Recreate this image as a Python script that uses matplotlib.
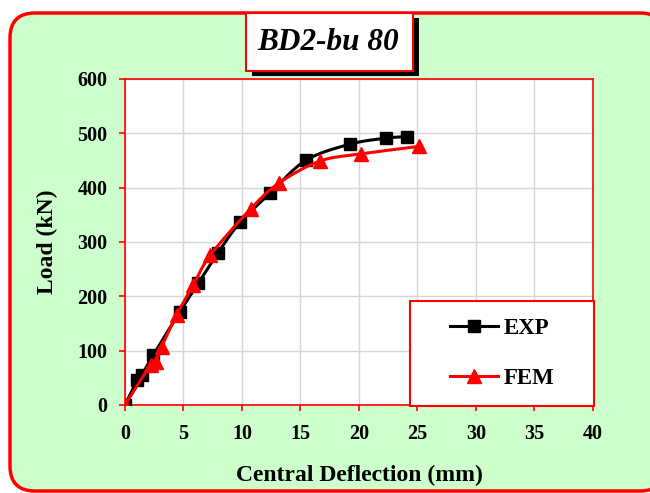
import numpy as np
import matplotlib
matplotlib.use('Agg')
import matplotlib.pyplot as plt
from matplotlib.patches import Rectangle, FancyBboxPatch

# load-deflection readings, beam BD2-bu 80
exp_defl = [0, 1.05, 1.42, 2.42, 4.70, 6.27, 7.95, 9.83, 12.42, 15.44, 19.23, 22.28, 24.13]
exp_load = [0, 46, 55, 92, 172, 224, 280, 336, 390, 450, 480, 491, 494]
fem_defl = [0, 2.19, 2.65, 3.13, 4.42, 5.84, 7.30, 10.74, 13.19, 16.67, 20.14, 25.13]
fem_load = [0, 74, 80, 107, 166, 221, 276, 361, 409, 449, 462, 476]

x_ticks = [0, 5, 10, 15, 20, 25, 30, 35, 40]
y_ticks = [0, 100, 200, 300, 400, 500, 600]

SERIF = 'Liberation Serif'
RED = '#FF0000'


def smooth(x, y, sx, sy, n=20):
    """Bezier smoothing through the points (like a spreadsheet smoothed line)."""
    p = np.column_stack([np.asarray(x) / sx, np.asarray(y) / sy])
    out = [p[0]]
    for i in range(len(p) - 1):
        p0 = p[i - 1] if i > 0 else p[i]
        p3 = p[i + 2] if i + 2 < len(p) else p[i + 1]
        c1 = p[i] + (p[i + 1] - p0) / 6.0
        c2 = p[i + 1] - (p3 - p[i]) / 6.0
        t = np.linspace(0, 1, n)[1:, None]
        seg = ((1 - t) ** 3 * p[i] + 3 * (1 - t) ** 2 * t * c1
               + 3 * (1 - t) * t ** 2 * c2 + t ** 3 * p[i + 1])
        out.extend(seg)
    out = np.array(out)
    return out[:, 0] * sx, out[:, 1] * sy


fig = plt.figure(figsize=(6.5, 4.93), dpi=100)

# rounded green panel behind everything
panel = FancyBboxPatch((0.10, 0.02), 6.55, 4.78,
                       boxstyle='round,pad=0,rounding_size=0.25',
                       transform=fig.dpi_scale_trans, facecolor='#CCFFCC',
                       edgecolor=RED, linewidth=2.5, zorder=-5)
fig.patches.append(panel)

ax = fig.add_axes([0.1923, 0.1785, 0.72, 0.6613])
ax.set_facecolor('white')

sx, sy = 40 / 468.0, 600 / 326.0
ex, ey = smooth(exp_defl, exp_load, sx, sy)
fx, fy = smooth(fem_defl, fem_load, sx, sy)
ax.plot(ex, ey, color='black', lw=2.2, zorder=3)
ax.plot(exp_defl, exp_load, 's', color='black', ms=9, zorder=4)
ax.plot(fx, fy, color=RED, lw=2.2, zorder=5)
ax.plot(fem_defl, fem_load, '^', color=RED, ms=10, zorder=6)

ax.set_xlim(0, 40)
ax.set_ylim(0, 600)
ax.set_xticks(x_ticks)
ax.set_yticks(y_ticks)
ax.grid(color='#D6D6D6', lw=1)
ax.set_axisbelow(True)
for sp in ax.spines.values():
    sp.set_color(RED)
    sp.set_linewidth(1.2)
ax.tick_params(colors=RED, length=4.5, width=1.2, direction='out')
ax.tick_params(axis='x', pad=9)
ax.tick_params(axis='y', pad=8)
for lbl in ax.get_xticklabels() + ax.get_yticklabels():
    lbl.set_color('black')
    lbl.set_fontfamily(SERIF)
    lbl.set_fontweight('bold')
    lbl.set_fontsize(14.5)

ax.set_xlabel('Central Deflection (mm)', family=SERIF, weight='bold',
              fontsize=17, labelpad=15)
ax.set_ylabel('Load (kN)', family=SERIF, weight='bold', fontsize=17,
              labelpad=14)

# legend box in the lower right corner
ax.add_patch(Rectangle((0.609, -0.003), 0.393, 0.322, transform=ax.transAxes,
                       facecolor='white', edgecolor=RED, lw=1.5,
                       clip_on=False, zorder=7))
h1, = ax.plot([], [], '-s', color='black', lw=2.2, ms=8.5)
h2, = ax.plot([], [], '-^', color=RED, lw=2.2, ms=10)
leg = ax.legend([h1, h2], ['EXP', 'FEM'], loc='center',
                bbox_to_anchor=(0.806, 0.158), frameon=False,
                prop={'family': SERIF, 'weight': 'bold', 'size': 16.5},
                handlelength=2.1, handletextpad=0.25, labelspacing=1.25,
                borderpad=0)
leg.set_zorder(8)

# title box with drop shadow
fig.patches.append(Rectangle((252 / 650, 1 - 76 / 493), 167 / 650, 58 / 493,
                             transform=fig.transFigure, facecolor='black',
                             edgecolor='none', zorder=1))
fig.patches.append(Rectangle((246 / 650, 1 - 71 / 493), 167 / 650, 58 / 493,
                             transform=fig.transFigure, facecolor='white',
                             edgecolor=RED, lw=1.5, zorder=2))
fig.text(328 / 650, 1 - 42 / 493, 'BD2-bu 80', family=SERIF, weight='bold',
         style='italic', fontsize=22.5, ha='center', va='center', zorder=3)

fig.savefig('out.png', dpi=100)
